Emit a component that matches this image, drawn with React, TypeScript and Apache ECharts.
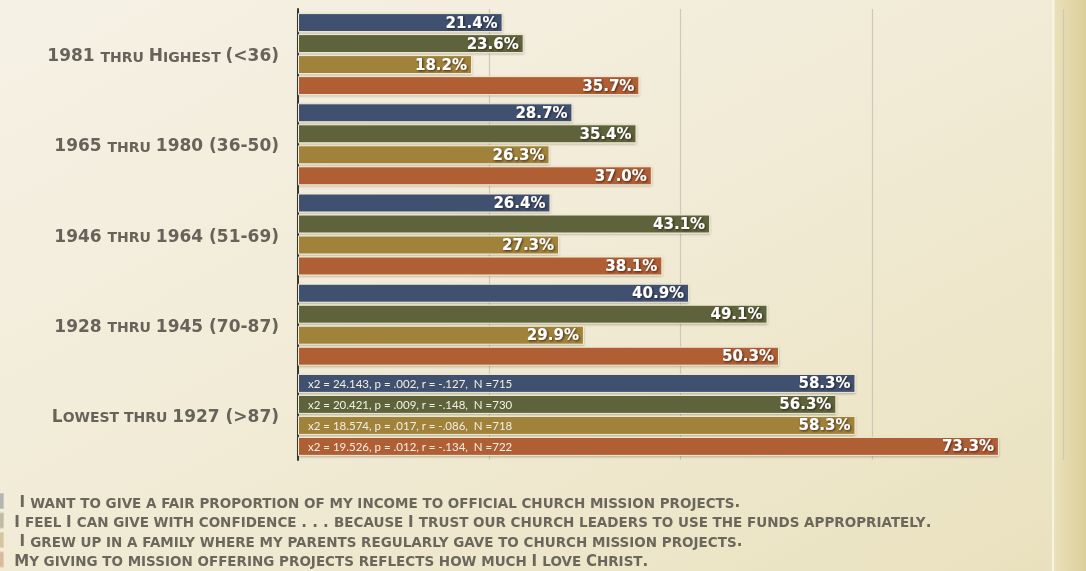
import React, { useEffect, useRef } from "react";
import * as echarts from "echarts";

const categories = [
  "1981 thru Highest (<36)",
  "1965 thru 1980 (36-50)",
  "1946 thru 1964 (51-69)",
  "1928 thru 1945 (70-87)",
  "Lowest thru 1927 (>87)",
];

const seriesNames = [
  " I want to give a fair proportion of my income to official church mission projects.",
  "I feel I can give with confidence . . . because I trust our church leaders to use the funds appropriately.",
  " I grew up in a family where my parents regularly gave to church mission projects.",
  "My giving to mission offering projects reflects how much I love Christ.",
];

const fairProportion = [21.4, 28.7, 26.4, 40.9, 58.3];
const giveWithConfidence = [23.6, 35.4, 43.1, 49.1, 56.3];
const grewUpGiving = [18.2, 26.3, 27.3, 29.9, 58.3];
const loveChrist = [35.7, 37.0, 38.1, 50.3, 73.3];

const statsLabels = [
  "x2 = 24.143, p = .002, r = -.127,  N =715",
  "x2 = 20.421, p = .009, r = -.148,  N =730",
  "x2 = 18.574, p = .017, r = -.086,  N =718",
  "x2 = 19.526, p = .012, r = -.134,  N =722",
];

const xTicks = [0, 20, 40, 60, 80];

const colors = ["#3f5170", "#5e643b", "#a0823a", "#b05f35"];

function smallCaps(s: string, big: string, small: string): string {
  let out = "";
  let cur: string | null = null;
  let buf = "";
  for (const ch of s) {
    if (ch === " " && cur !== null) {
      buf += ch;
      continue;
    }
    const isLower = ch !== ch.toUpperCase();
    const t = isLower ? small : big;
    const c = ch.toUpperCase();
    if (t !== cur) {
      if (buf) out += `{${cur ?? big}|${buf}}`;
      cur = t;
      buf = c;
    } else {
      buf += c;
    }
  }
  if (buf) out += `{${cur ?? big}|${buf}}`;
  return out;
}

export default function App() {
  const ref = useRef<HTMLDivElement>(null);

  useEffect(() => {
    if (!ref.current) return;
    const chart = echarts.init(ref.current, undefined, { renderer: "svg" });
    const values = [fairProportion, giveWithConfidence, grewUpGiving, loveChrist];
    const labelGray = "#67635a";

    const mainSeries = values.map((vals, i) => ({
      name: seriesNames[i],
      type: "bar",
      yAxisIndex: 0,
      data: vals,
      barGap: "10.5%",
      barCategoryGap: "9.1%",
      itemStyle: {
        color: colors[i],
        borderColor: "#f4eed8",
        borderWidth: 1,
        shadowColor: "rgba(60,50,30,0.35)",
        shadowBlur: 2,
        shadowOffsetY: 1,
      },
      label: {
        show: true,
        position: "insideRight",
        distance: 5,
        formatter: (p: any) => `${Number(p.value).toFixed(1)}%`,
        color: "#ffffff",
        fontFamily: "DejaVu Sans",
        fontWeight: "bold",
        fontSize: 15,
        textShadowColor: "rgba(30,20,10,0.75)",
        textShadowBlur: 2,
        textShadowOffsetX: 1,
        textShadowOffsetY: 1,
      },
    }));

    const lastIdx = categories.length - 1;
    const statsSeries = values.map((vals, i) => ({
      name: `stats-${i}`,
      type: "bar",
      yAxisIndex: 1,
      silent: true,
      data: vals.map((v, j) => (j === lastIdx ? v : "-")),
      barGap: "10.5%",
      barCategoryGap: "9.1%",
      itemStyle: { color: "rgba(0,0,0,0)" },
      label: {
        show: true,
        position: "insideLeft",
        distance: 10,
        formatter: () => statsLabels[i],
        color: "#f3efe4",
        fontFamily: "Lato",
        fontSize: 11.5,
      },
      z: 3,
    }));

    const richAxis = {
      c: {
        fontFamily: "DejaVu Sans",
        fontWeight: "bold",
        fontSize: 17,
        lineHeight: 19,
        color: labelGray,
        verticalAlign: "bottom",
      },
      s: {
        fontFamily: "DejaVu Sans",
        fontWeight: "bold",
        fontSize: 14,
        lineHeight: 17.2,
        color: labelGray,
        verticalAlign: "bottom",
      },
    };
    const richLegend = {
      lc: {
        fontFamily: "DejaVu Sans",
        fontWeight: "bold",
        fontSize: 15,
        lineHeight: 17.5,
        color: "#6c675c",
        verticalAlign: "bottom",
      },
      ls: {
        fontFamily: "DejaVu Sans",
        fontWeight: "bold",
        fontSize: 13.5,
        lineHeight: 16.6,
        color: "#6c675c",
        verticalAlign: "bottom",
      },
    };

    chart.setOption({
      animation: false,
      graphic: [
        {
          type: "rect",
          z: -10,
          silent: true,
          shape: { x: 0, y: 0, width: 1086, height: 571 },
          style: {
            fill: new echarts.graphic.LinearGradient(0, 0, 1, 1, [
              { offset: 0, color: "#f5f1e5" },
              { offset: 0.5, color: "#f1ebd6" },
              { offset: 1, color: "#e9e1bd" },
            ]),
          },
        },
        {
          type: "rect",
          z: -9,
          silent: true,
          shape: { x: 1055, y: 0, width: 31, height: 571 },
          style: {
            fill: new echarts.graphic.LinearGradient(0, 0, 1, 0, [
              { offset: 0, color: "#e9e0b8" },
              { offset: 1, color: "#dbcf9b" },
            ]),
          },
        },
        {
          type: "rect",
          z: -8,
          silent: true,
          shape: { x: 1052, y: 0, width: 2, height: 571 },
          style: { fill: "#f8f4e4" },
        },
      ],
      legend: {
        orient: "vertical",
        left: -7,
        top: 492,
        height: 120,
        padding: 0,
        itemWidth: 10,
        itemHeight: 16,
        itemGap: 1.5,
        icon: "rect",
        selectedMode: false,
        data: seriesNames.map((n) => ({ name: n, itemStyle: { opacity: 0.35 } })),
        formatter: (name: string) => "{lc| }" + smallCaps(name, "lc", "ls"),
        textStyle: { rich: richLegend },
      },
      grid: {
        left: 298,
        right: 23,
        top: 9,
        height: 451,
        containLabel: false,
      },
      xAxis: {
        type: "value",
        min: xTicks[0],
        max: xTicks[xTicks.length - 1],
        interval: xTicks[1] - xTicks[0],
        axisLabel: { show: false },
        axisLine: { show: false },
        axisTick: { show: false },
        splitLine: { show: true, lineStyle: { color: "#cfc8b6", width: 1.2 } },
      },
      yAxis: [
        {
          type: "category",
          data: categories,
          inverse: true,
          axisTick: { show: false },
          axisLine: { show: true, lineStyle: { color: "#3a3932", width: 2 } },
          axisLabel: {
            margin: 19,
            formatter: (v: string) => smallCaps(v, "c", "s"),
            rich: richAxis,
          },
          splitLine: { show: false },
        },
        {
          type: "category",
          data: categories,
          inverse: true,
          show: false,
        },
      ],
      series: [...mainSeries, ...statsSeries],
    });

    return () => chart.dispose();
  }, []);

  return (
    <div
      ref={ref}
      style={{ position: "fixed", left: 0, top: 0, width: 1086, height: 571 }}
    />
  );
}
